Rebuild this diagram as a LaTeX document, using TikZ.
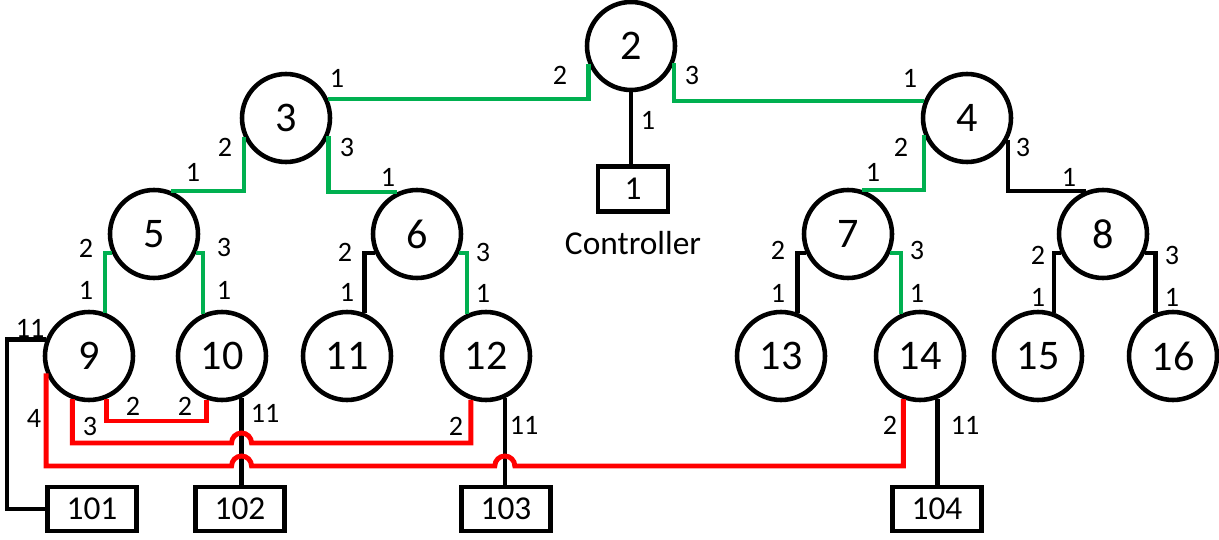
\documentclass[tikz,border=0pt]{standalone}
\usepackage{fontspec}
\setmainfont{Carlito}
\usetikzlibrary{calc}
\definecolor{linkgreen}{RGB}{0,176,80}
\tikzset{
    nd/.style={circle, draw, line width=2.6pt, minimum size=1.76cm, inner sep=0pt, font=\fontsize{24}{28}\selectfont},
    box/.style={rectangle, draw, line width=2.6pt, inner sep=0pt, font=\fontsize{19}{22}\selectfont},
    port/.style={inner sep=0pt, font=\fontsize{16}{18}\selectfont},
    grn/.style={linkgreen, line width=2.4pt},
    blk/.style={black, line width=2.6pt},
    rd/.style={red, line width=2.8pt},
}
\begin{document}
\begin{tikzpicture}[x=0.02cm, y=-0.02cm]
        \useasboundingbox (0,0) rectangle (1219,540);

        % Switches
        \node[nd] (n2) at (631,46) {2};
        \node[nd] (n3) at (286,118) {3};
        \node[nd] (n4) at (967,118) {4};
        \node[nd] (n5) at (154,234) {5};
        \node[nd] (n6) at (417,234) {6};
        \node[nd] (n7) at (848,234) {7};
        \node[nd] (n8) at (1103,234) {8};
        \node[nd] (n9) at (89,356) {9};
        \node[nd] (n10) at (222,356) {10};
        \node[nd] (n11) at (347,356) {11};
        \node[nd] (n12) at (486,356) {12};
        \node[nd] (n13) at (781,356) {13};
        \node[nd] (n14) at (920,356) {14};
        \node[nd] (n15) at (1038,356) {15};
        \node[nd] (n16) at (1173,356) {16};

        % Hosts and controller
        \node[box, minimum width=1.4cm, minimum height=0.9cm] (b1) at (633,189) {1};
        \node[font=\fontsize{19}{22}\selectfont] (ctrl) at (633,243) {Controller};
        \node[box, minimum width=1.78cm, minimum height=0.88cm] (b101) at (92,509) {101};
        \node[box, minimum width=1.78cm, minimum height=0.88cm] (b102) at (240,509) {102};
        \node[box, minimum width=1.78cm, minimum height=0.88cm] (b103) at (506,509) {103};
        \node[box, minimum width=1.78cm, minimum height=0.88cm] (b104) at (937,509) {104};

        % Tree links
        \draw[grn] (n2.203) |- (n3.24);
        \draw[grn] (n2.338) |- (n4.158);
        \draw[grn] (n3.204) |- (n5.69);
        \draw[grn] (n3.337) |- (n6.115);
        \draw[grn] (n5.204) -| (n9.70);
        \draw[grn] (n5.336) -| (n10.114);
        \draw[grn] (n6.336) -| (n12.114);
        \draw[grn] (n4.202) |- (n7.72);
        \draw[grn] (n7.336) -| (n14.114);
        \draw[blk] (n4.332) |- (n8.111);
        \draw[blk] (n6.204) -| (n11.68);
        \draw[blk] (n7.204) -| (n13.69);
        \draw[blk] (n8.204) -| (n15.70);
        \draw[blk] (n8.336) -| (n16.112);

        % Host links
        \coordinate (c101) at (7,509);
        \draw[blk] (n2.south) -- (n2.south |- b1.north);
        \draw[blk] (n9.159) -| (c101) -- (b101.west);
        \draw[blk] (n10.295) -- (n10.295 |- b102.north);
        \draw[blk] (n12.294) -- (n12.294 |- b103.north);
        \draw[blk] (n14.292) -- (n14.292 |- b104.north);

        % Extra links
        \coordinate (h2) at (150,421);
        \coordinate (h3) at (0,443);
        \coordinate (h4) at (0,466);
        \coordinate (j1) at (n10.295 |- h3);
        \coordinate (j2) at (n10.295 |- h4);
        \coordinate (j3) at (n12.294 |- h4);
        \draw[rd] (n9.292) |- (h2) -| (n10.251);
        \draw[rd] (n9.249) |- ($(j1)+(-10,0)$) arc[start angle=180, end angle=0, radius=0.2cm]
            -- (n12.251 |- j1) -- (n12.251);
        \draw[rd] (n9.202) |- ($(j2)+(-10,0)$) arc[start angle=180, end angle=0, radius=0.2cm]
            -- ($(j3)+(-10,0)$) arc[start angle=180, end angle=0, radius=0.2cm]
            -- (n14.249 |- j2) -- (n14.249);

        % Port numbers
        \node[port] (p2a) at (560,75) {2};
        \node[port] (p2b) at (692,75) {3};
        \node[port] (p2c) at (648,120) {1};
        \node[port] (p3a) at (337,78) {1};
        \node[port] (p3b) at (225,147) {2};
        \node[port] (p3c) at (347,147) {3};
        \node[port] (p4a) at (910,78) {1};
        \node[port] (p4b) at (901,147) {2};
        \node[port] (p4c) at (1023,147) {3};
        \node[port] (p5a) at (193,172) {1};
        \node[port] (p5b) at (86,248) {2};
        \node[port] (p5c) at (224,247) {3};
        \node[port] (p6a) at (388,177) {1};
        \node[port] (p6b) at (345,252) {2};
        \node[port] (p6c) at (483,252) {3};
        \node[port] (p7a) at (873,172) {1};
        \node[port] (p7b) at (778,250) {2};
        \node[port] (p7c) at (917,250) {3};
        \node[port] (p8a) at (1069,177) {1};
        \node[port] (p8b) at (1038,255) {2};
        \node[port] (p8c) at (1172,255) {3};
        \node[port] (p9a) at (86,290) {1};
        \node[port] (p9b) at (133,406) {2};
        \node[port] (p9c) at (90,426) {3};
        \node[port] (p9d) at (34,418) {4};
        \node[port] (p9e) at (30,328) {11};
        \node[port] (p10a) at (224,290) {1};
        \node[port] (p10b) at (185,406) {2};
        \node[port] (p10c) at (265,413) {11};
        \node[port] (p11a) at (347,292) {1};
        \node[port] (p12a) at (483,293) {1};
        \node[port] (p12b) at (456,426) {2};
        \node[port] (p12c) at (524,425) {11};
        \node[port] (p13a) at (778,293) {1};
        \node[port] (p14a) at (917,293) {1};
        \node[port] (p14b) at (890,425) {2};
        \node[port] (p14c) at (965,425) {11};
        \node[port] (p15a) at (1038,297) {1};
        \node[port] (p16a) at (1172,297) {1};
\end{tikzpicture}
\end{document}
